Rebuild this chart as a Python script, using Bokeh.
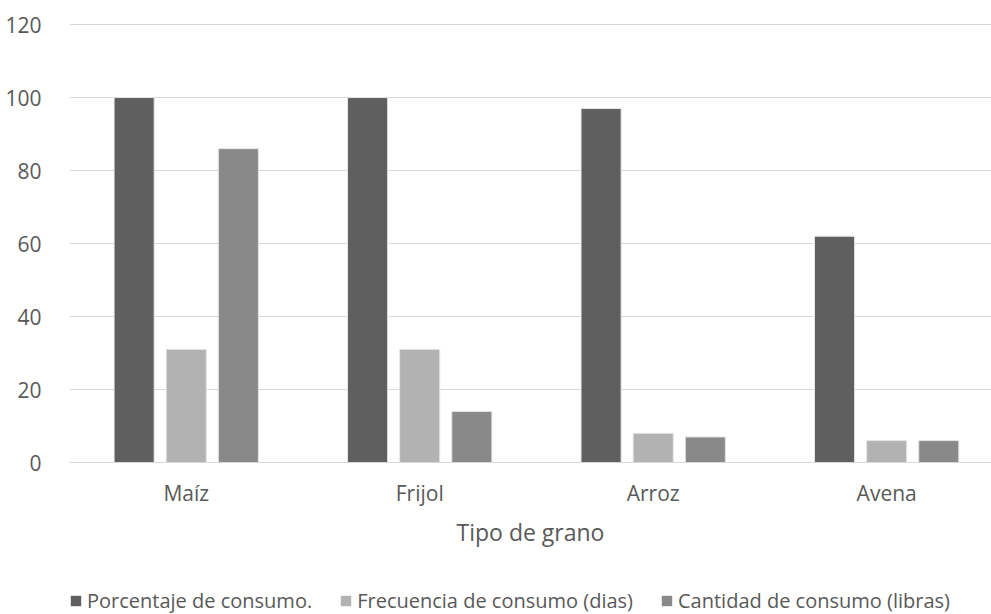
from bokeh.plotting import figure
from bokeh.models import (ColumnDataSource, Range1d, FixedTicker, Legend,
                          LegendItem)
from bokeh.layouts import column
from bokeh.transform import dodge
from bokeh.embed import file_html
from bokeh.resources import INLINE

# Grain types and the three measures per grain
granos = ["Maíz", "Frijol", "Arroz", "Avena"]
porcentaje = [100, 100, 97, 62]
frecuencia = [31, 31, 8, 6]
cantidad = [86, 14, 7, 6]
y_ticks = [0, 20, 40, 60, 80, 100, 120]

serie_cols = ["porcentaje", "frecuencia", "cantidad"]
serie_nombres = ["Porcentaje de consumo.",
                 "Frecuencia de consumo (dias)",
                 "Cantidad de consumo (libras)"]
serie_colores = ["#5f5f5f", "#b2b2b2", "#898989"]

FONT = "Open Sans"
TEXT = "#595959"
GRID = "#d9d9d9"
EDGE = "#e6e6e6"

source = ColumnDataSource(dict(
    x=list(range(len(granos))),
    porcentaje=porcentaje,
    frecuencia=frecuencia,
    cantidad=cantidad,
))

bar_w = 0.1717
offset = 0.2232
offsets = [-offset, 0.0, offset]

# ---- main chart -------------------------------------------------------
p = figure(width=991, height=560, output_backend="svg", toolbar_location=None,
           x_range=Range1d(-0.5, 3.449), y_range=Range1d(0, 120.3),
           min_border_left=69, min_border_right=0, min_border_top=23,
           min_border_bottom=98, outline_line_color=None)
p.title.visible = False

for col, off, color in zip(serie_cols, offsets, serie_colores):
    p.vbar(x=dodge("x", off), top=col, width=bar_w, bottom=0,
           source=source, fill_color=color, line_color=EDGE, line_width=1)

p.xaxis.ticker = FixedTicker(ticks=list(range(len(granos))))
p.xaxis.major_label_overrides = {i: g for i, g in enumerate(granos)}
p.xaxis.axis_label = "Tipo de grano"
p.xaxis.axis_line_color = GRID
p.xaxis.major_tick_line_color = None
p.xaxis.minor_tick_line_color = None
p.xaxis.major_label_text_font = FONT
p.xaxis.major_label_text_font_size = "21px"
p.xaxis.major_label_text_color = TEXT
p.xaxis.major_label_standoff = 10
p.xaxis.axis_label_text_font = FONT
p.xaxis.axis_label_text_font_size = "23px"
p.xaxis.axis_label_text_font_style = "normal"
p.xaxis.axis_label_text_color = TEXT
p.xaxis.axis_label_standoff = 6

p.yaxis.ticker = FixedTicker(ticks=y_ticks)
p.yaxis.axis_line_color = None
p.yaxis.major_tick_line_color = None
p.yaxis.minor_tick_line_color = None
p.yaxis.major_label_text_font = FONT
p.yaxis.major_label_text_font_size = "21px"
p.yaxis.major_label_text_color = TEXT
p.yaxis.major_label_standoff = 22

p.xgrid.grid_line_color = None
p.ygrid.grid_line_color = GRID
p.ygrid.grid_line_width = 1

# ---- legend strip -------------------------------------------------------
# the swatch renderers lie far outside this strip's visible ranges
q = figure(width=991, height=54, output_backend="svg", toolbar_location=None,
           x_range=Range1d(-40, -39), y_range=Range1d(1000, 1001),
           x_axis_type=None, y_axis_type=None,
           min_border_left=0, min_border_right=0, min_border_top=0,
           min_border_bottom=0, outline_line_color=None)
q.title.visible = False
q.xgrid.grid_line_color = None
q.ygrid.grid_line_color = None

swatches = []
for col, off, color in zip(serie_cols, offsets, serie_colores):
    r = q.vbar(x=dodge("x", off), top=col, width=bar_w, bottom=0,
               source=source, fill_color=color, line_color=None)
    swatches.append(r)

legend = Legend(
    items=[LegendItem(label=n, renderers=[r])
           for n, r in zip(serie_nombres, swatches)],
    orientation="horizontal", location=(0, 0),
    label_text_font=FONT, label_text_font_size="20px",
    label_text_color=TEXT, glyph_width=13, glyph_height=13,
    label_standoff=5, spacing=27, padding=0, margin=0,
    border_line_color=None, background_fill_alpha=0,
)
q.add_layout(legend, "center")

open("out.html", "w").write(file_html(column(p, q, spacing=0), INLINE))
